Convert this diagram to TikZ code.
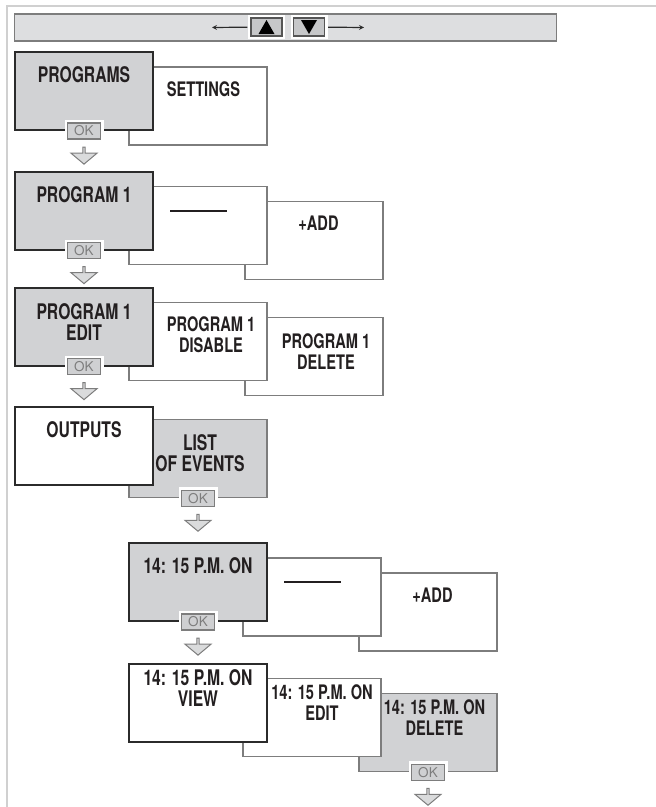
\documentclass[tikz,border=0pt]{standalone}
\usepackage{fontspec}
\setmainfont{TeX Gyre Heros}[FakeStretch=0.73]
\newfontfamily\okfont{TeX Gyre Heros}
\usetikzlibrary{positioning,shapes.arrows}

\definecolor{panelgray}{RGB}{209,210,212}
\definecolor{bargray}{RGB}{221,222,224}
\definecolor{keygray}{RGB}{198,199,201}
\definecolor{okgray}{RGB}{207,208,210}
\definecolor{arrowgray}{RGB}{218,219,220}
\definecolor{thinline}{RGB}{125,125,125}
\definecolor{darkline}{RGB}{43,43,43}
\definecolor{framegray}{RGB}{208,208,208}
\definecolor{inkblack}{RGB}{35,31,32}

\begin{document}
\begin{tikzpicture}[x=1pt, y=-1pt, >=stealth,
    every node/.style={inner sep=0pt, text=inkblack},
    mainbox/.style={draw=darkline, line width=2pt, fill=panelgray, minimum width=138pt, minimum height=78pt},
    mainboxw/.style={mainbox, fill=white},
    backbox/.style={draw=thinline, line width=1.3pt, fill=white, minimum width=138pt, minimum height=78pt},
    backboxg/.style={backbox, fill=panelgray},
    bigtext/.style={align=center, font=\bfseries\fontsize{21.5}{21}\selectfont},
    smalltext/.style={align=center, font=\bfseries\fontsize{20}{21}\selectfont},
    okkey/.style={draw=thinline, line width=1.2pt, fill=okgray, minimum width=33pt, minimum height=16pt,
        preaction={draw=white, line width=6pt}, text=thinline, font=\okfont\fontsize{13.5}{13.5}\selectfont},
    okarrow/.style={single arrow, shape border rotate=270, draw=thinline, line width=1pt, fill=arrowgray,
        minimum height=17pt, minimum width=26pt, single arrow head extend=5pt, single arrow tip angle=100,
        single arrow head indent=0pt},
    navkey/.style={draw=darkline!80, line width=1.2pt, fill=keygray, minimum width=31pt, minimum height=18pt,
        preaction={draw=white, line width=6pt}},
    dashbar/.style={fill=inkblack, minimum width=57pt, minimum height=2.2pt}
  ]
  \useasboundingbox (0,0) rectangle (656,807);
  \draw[framegray, line width=2pt] (6.5,807) -- (6.5,6) -- (656,6);

  \node[draw=thinline, line width=1.3pt, fill=bargray, minimum width=542pt, minimum height=27pt] (bar) at (285.5,27.5) {};
  \node[navkey] (upkey) at (266.5,27) {};
  \node[navkey] (downkey) at (309,27) {};
  \fill[black] ([shift={(0,-7)}]upkey.center) -- ([shift={(8,7)}]upkey.center) -- ([shift={(-8,7)}]upkey.center) -- cycle;
  \fill[black] ([shift={(0,7)}]downkey.center) -- ([shift={(8,-7)}]downkey.center) -- ([shift={(-8,-7)}]downkey.center) -- cycle;
  \coordinate (lefttip) at (212,27.5);
  \coordinate (righttip) at (364,27.5);
  \draw[->, darkline, line width=1.2pt, shorten <=3pt] (upkey) -- (lefttip);
  \draw[->, darkline, line width=1.2pt, shorten <=3pt] (downkey) -- (righttip);

  \coordinate (stageA) at (84,91);
  \node[backbox] (settings) at ([shift={(114,15)}]stageA) {};
  \node[mainbox] (programs) at (stageA) {};
  \node[bigtext] (programsT) at ([shift={(0,23.5)}]programs.north) {PROGRAMS};
  \node[smalltext] (settingsT) at ([shift={(5.5,23)}]settings.north) {SETTINGS};
  \node[okkey] (okA) at (programs.south) {OK};
  \node[okarrow, below=7pt of okA] (arrowA) {};

  \coordinate (stageB) at (84,210.5);
  \node[backbox] (addB) at ([shift={(230,30)}]stageB) {};
  \node[backbox] (blankB) at ([shift={(114,15)}]stageB) {};
  \node[mainbox] (program) at (stageB) {};
  \node[bigtext] (programT) at ([shift={(0,24)}]program.north) {PROGRAM 1};
  \node[dashbar] (blankBT) at ([shift={(0,25)}]blankB.north) {};
  \node[smalltext] (addBT) at ([shift={(4.5,22)}]addB.north) {+ADD};
  \node[okkey] (okB) at (program.south) {OK};
  \node[okarrow, below=7pt of okB] (arrowB) {};

  \coordinate (stageC) at (84,326.5);
  \node[backbox] (deleteC) at ([shift={(230,30)}]stageC) {};
  \node[backbox] (disable) at ([shift={(114,15)}]stageC) {};
  \node[mainbox] (edit) at (stageC) {};
  \node[bigtext] (editT) at ([shift={(0,35.5)}]edit.north) {PROGRAM 1\\EDIT};
  \node[smalltext] (disableT) at ([shift={(13,33)}]disable.north) {PROGRAM 1\\DISABLE};
  \node[smalltext] (deleteCT) at ([shift={(12,34.5)}]deleteC.north) {PROGRAM 1\\DELETE};
  \node[okkey] (okC) at (edit.south) {OK};
  \node[okarrow, below=7pt of okC] (arrowC) {};

  \coordinate (stageD) at (84,445.5);
  \node[backboxg] (events) at ([shift={(114,13)}]stageD) {};
  \node[mainboxw] (outputs) at (stageD) {};
  \node[bigtext] (outputsT) at ([shift={(0,24)}]outputs.north) {OUTPUTS};
  \node[bigtext] (eventsT) at ([shift={(2,34)}]events.north) {LIST\\OF EVENTS};
  \node[okkey] (okD) at (events.south) {OK};
  \node[okarrow, below=7pt of okD] (arrowD) {};

  \coordinate (stageE) at (198,582);
  \node[backbox] (addE) at ([shift={(230,30)}]stageE) {};
  \node[backbox] (blankE) at ([shift={(114,15)}]stageE) {};
  \node[mainbox] (event) at (stageE) {};
  \node[bigtext] (eventT) at ([shift={(0,24)}]event.north) {14: 15 P.M. ON};
  \node[dashbar] (blankET) at ([shift={(0,25)}]blankE.north) {};
  \node[smalltext] (addET) at ([shift={(4.5,23)}]addE.north) {+ADD};
  \node[okkey] (okE) at (event.south) {OK};
  \node[okarrow, below=7pt of okE] (arrowE) {};

  \coordinate (stageF) at (198,702.5);
  \node[backboxg] (deleteF) at ([shift={(230,30)}]stageF) {};
  \node[backbox] (editF) at ([shift={(114,15)}]stageF) {};
  \node[mainboxw] (view) at (stageF) {};
  \node[bigtext] (viewT) at ([shift={(0,26)}]view.north) {14: 15 P.M. ON\\VIEW};
  \node[smalltext] (editFT) at ([shift={(10,25)}]editF.north) {14: 15 P.M. ON\\EDIT};
  \node[smalltext] (deleteFT) at ([shift={(6.5,25)}]deleteF.north) {14: 15 P.M. ON\\DELETE};
  \node[okkey] (okF) at (deleteF.south) {OK};
  \node[okarrow, below=7pt of okF] (arrowF) {};
\end{tikzpicture}
\end{document}
